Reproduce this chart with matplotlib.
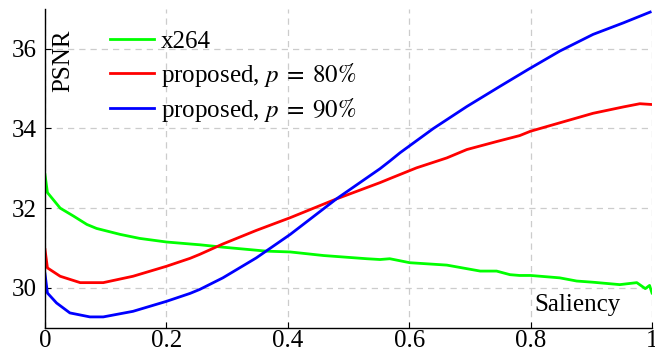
import numpy as np
import matplotlib
matplotlib.use('Agg')
import matplotlib.pyplot as plt

plt.rcParams['font.family'] = ['Liberation Serif', 'DejaVu Serif']
plt.rcParams['mathtext.fontset'] = 'stix'

# saliency threshold vs. PSNR (dB)
x264_x = [0.0, 0.004, 0.025, 0.047, 0.069, 0.085, 0.124, 0.156, 0.2, 0.239, 0.255,
          0.293, 0.365, 0.404, 0.459, 0.53, 0.552, 0.568, 0.601, 0.662, 0.717, 0.744,
          0.766, 0.782, 0.8, 0.848, 0.876, 0.903, 0.947, 0.975, 0.989, 0.996, 1.0]
x264_y = [32.84, 32.39, 32.0, 31.8, 31.59, 31.49, 31.34, 31.24, 31.15, 31.1, 31.08,
          31.02, 30.92, 30.9, 30.81, 30.73, 30.71, 30.73, 30.63, 30.57, 30.42, 30.42,
          30.33, 30.31, 30.31, 30.25, 30.17, 30.14, 30.08, 30.13, 29.98, 30.06, 29.87]

p80_x = [0.0, 0.004, 0.025, 0.058, 0.096, 0.145, 0.2, 0.239, 0.255, 0.293, 0.348,
         0.404, 0.48, 0.552, 0.568, 0.612, 0.662, 0.695, 0.744, 0.782, 0.8, 0.848,
         0.903, 0.953, 0.98, 1.0]
p80_y = [30.96, 30.5, 30.29, 30.13, 30.13, 30.29, 30.54, 30.74, 30.84, 31.1, 31.44,
         31.76, 32.23, 32.64, 32.74, 33.01, 33.26, 33.47, 33.67, 33.82, 33.93, 34.14,
         34.38, 34.54, 34.62, 34.6]

p90_x = [0.0, 0.004, 0.019, 0.041, 0.074, 0.096, 0.145, 0.2, 0.239, 0.255, 0.293,
         0.348, 0.404, 0.48, 0.552, 0.568, 0.585, 0.64, 0.695, 0.75, 0.796, 0.848,
         0.903, 0.953, 0.997]
p90_y = [30.35, 29.87, 29.62, 29.37, 29.27, 29.27, 29.41, 29.66, 29.86, 29.96, 30.25,
         30.75, 31.34, 32.23, 32.99, 33.18, 33.39, 34.0, 34.55, 35.06, 35.48, 35.94,
         36.36, 36.65, 36.92]

fig = plt.figure(figsize=(6.55, 3.55), dpi=100)
ax = fig.add_axes([0.0687, 0.077, 0.9267, 0.898])

ax.plot(x264_x, x264_y, color='#00ff00', lw=2.0, label='x264')
ax.plot(p80_x, p80_y, color='#ff0000', lw=2.0, label=r'proposed, $p\;=\;80\%$')
ax.plot(p90_x, p90_y, color='#0000ff', lw=2.0, label=r'proposed, $p\;=\;90\%$')

ax.set_xlim(0, 1)
ax.set_ylim(29.0, 37.0)
ax.set_xticks([0, 0.2, 0.4, 0.6, 0.8, 1])
ax.set_xticklabels(['0', '0.2', '0.4', '0.6', '0.8', '1'])
ax.set_yticks([30, 32, 34, 36])
ax.tick_params(direction='in', length=4, labelsize=18, width=0.8)
ax.tick_params(axis='x', pad=2)
ax.tick_params(axis='y', pad=6)
ax.grid(True, color='#cccccc', linestyle=(0, (5, 4)), lw=0.9)
ax.spines['top'].set_visible(False)
ax.spines['right'].set_visible(False)
ax.spines['left'].set_linewidth(1.0)
ax.spines['bottom'].set_linewidth(1.0)

ax.text(0.030, 0.936, 'PSNR', transform=ax.transAxes, rotation=90,
        fontsize=18, ha='center', va='top')
ax.text(0.878, 0.071, 'Saliency', transform=ax.transAxes,
        fontsize=18, ha='center', va='center')

ax.legend(loc='upper left', bbox_to_anchor=(0.107, 0.932), frameon=False,
          fontsize=18, handlelength=1.75, handletextpad=0.3, labelspacing=0.3,
          borderaxespad=0, borderpad=0)

fig.savefig('out.png', dpi=100)
